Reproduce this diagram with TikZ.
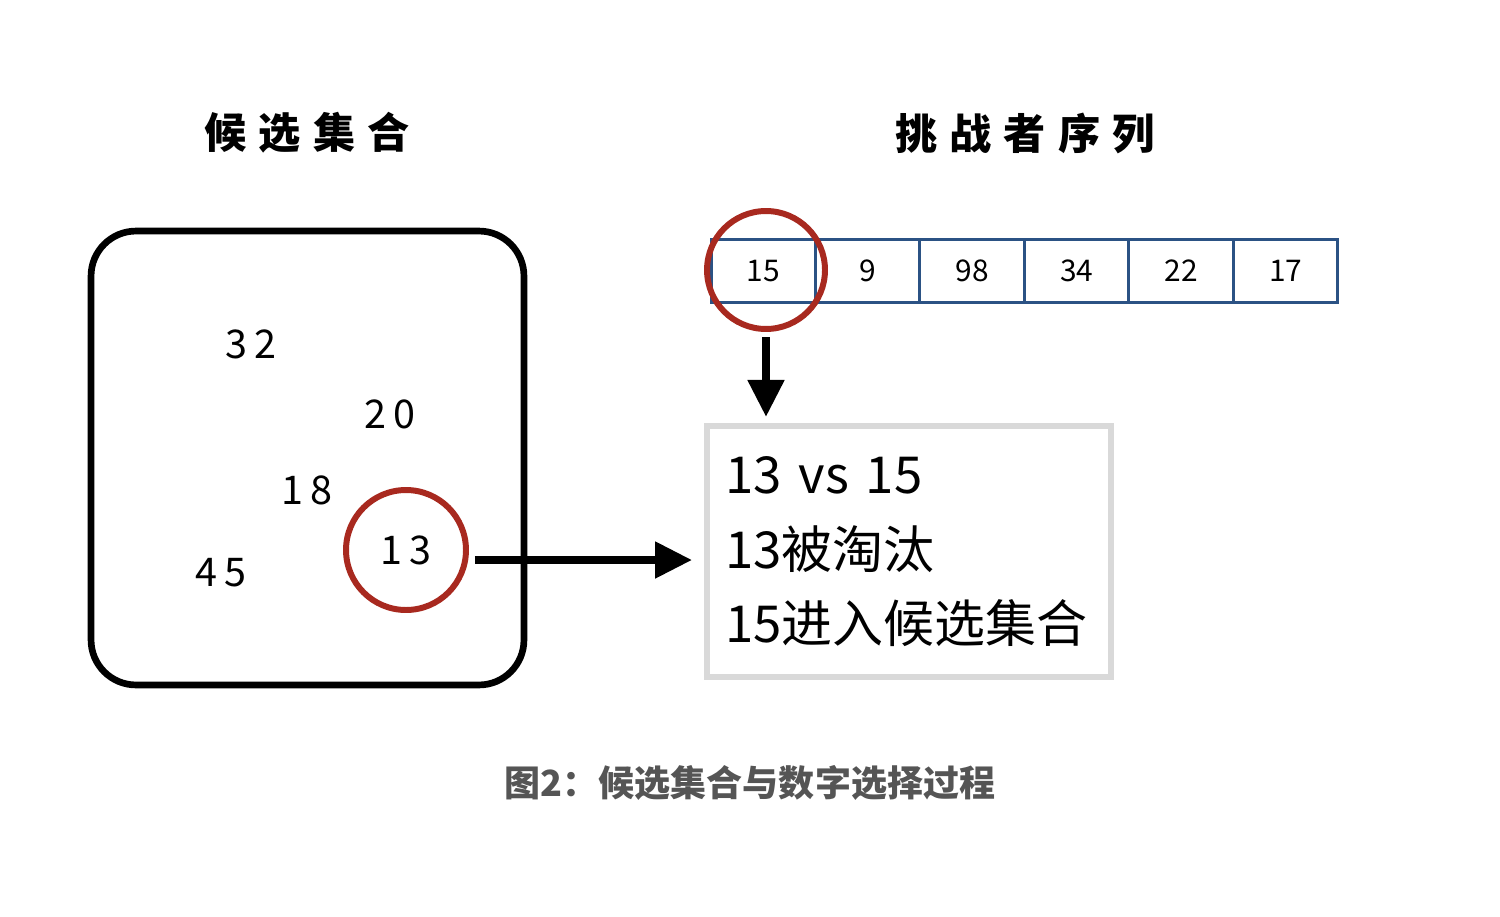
\documentclass[tikz,border=0pt]{standalone}
\usepackage{fontspec}
\setmainfont{Noto Sans CJK SC}
\usetikzlibrary{positioning,arrows.meta}
\definecolor{chalkred}{HTML}{A8291F}
\definecolor{cellblue}{HTML}{2B5284}
\definecolor{boxgray}{HTML}{D9D9D9}
\definecolor{capgray}{HTML}{555555}
\tikzset{
  setbox/.style={draw=black, line width=3.8pt, rounded corners=0.9cm, minimum width=8.66cm, minimum height=9.08cm},
  pick/.style={draw=chalkred, line width=3.4pt, circle, inner sep=0pt},
  cell/.style={draw=cellblue, line width=1.7pt, minimum width=2.09cm, minimum height=1.26cm, inner sep=0pt, outer sep=0pt, font=\fontsize{17}{20}\selectfont},
  num/.style={font=\fontsize{22.5}{26}\selectfont},
  heading/.style={font=\bfseries\fontsize{24}{28}\selectfont},
  fatarrow/.style={line width=4.3pt, -{Triangle[length=21pt, width=20pt]}},
}
\begin{document}
\begin{tikzpicture}[x=0.02cm, y=-0.02cm]
			%%%%% START %%%%%
			\useasboundingbox[fill=white] (0, 0) rectangle (1500, 916);
			
			\node[heading] (title1) at (307, 133) {候\hspace{7pt}选\hspace{7pt}集\hspace{7pt}合};
			\node[heading] (title2) at (1025, 133) {挑\hspace{7pt}战\hspace{7pt}者\hspace{7pt}序\hspace{7pt}列};
			
			\node[setbox] (set) at (307.5, 458) {};
			\node[num] (n32) at (251, 344) {3\,2};
			\node[num] (n20) at (390, 414) {2\,0};
			\node[num] (n18) at (307, 490) {1\,8};
			\node[num] (n45) at (221, 573) {4\,5};
			\node[pick, num, minimum size=2.4cm] (c13) at (406, 550) {1\,3};
			
			\node[cell] (s1) at (763.25, 271) {15};
			\node[cell, right=0pt of s1] (s2) {9};
			\node[cell, right=0pt of s2] (s3) {98};
			\node[cell, right=0pt of s3] (s4) {34};
			\node[cell, right=0pt of s4] (s5) {22};
			\node[cell, right=0pt of s5] (s6) {17};
			\node[pick, minimum size=2.36cm] (c15) at (766, 270) {};
			
			\node[draw=boxgray, line width=3.4pt, minimum width=8.08cm, minimum height=5.02cm, text width=7.36cm, align=left, inner xsep=0.36cm, font=\fontsize{29}{43}\selectfont] (duel) at (909, 551.5) {\raisebox{-2pt}{13 vs 15}\\[-1pt]\raisebox{-3pt}{13被淘汰}\\[-2pt]\raisebox{-4pt}{15进入候选集合}};
			
			\coordinate (a1) at (692, 560);
			\draw[fatarrow] (c13.east |- a1) ++(6, 0) -- (a1);
			\draw[fatarrow] ([yshift=-3pt]c15.south) -- ([yshift=3.5pt]c15.south |- duel.north);
			
			\node[font=\bfseries\fontsize{20.5}{24}\selectfont, text=capgray] (caption) at (750, 783) {图2：候选集合与数字选择过程};
			%%%%% END %%%%%
\end{tikzpicture}
\end{document}
